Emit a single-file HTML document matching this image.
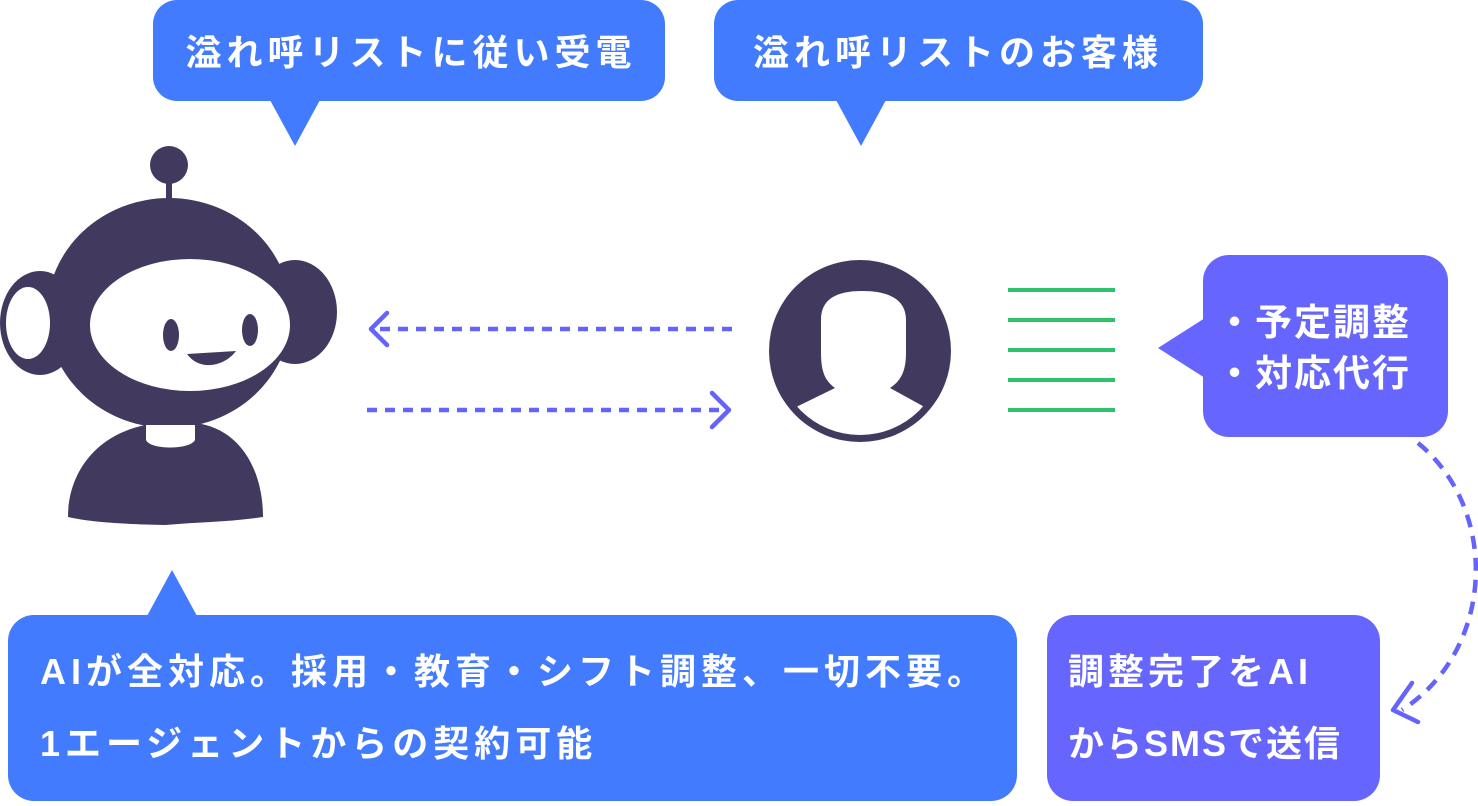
<!DOCTYPE html>
<html><head><meta charset="utf-8"><style>
html,body{margin:0;padding:0;background:#fff;}
svg text{font-family:"Liberation Sans","Noto Sans CJK JP",sans-serif;font-weight:bold;fill:#fff;}
</style></head><body>
<svg width="1478" height="801" viewBox="0 0 1478 801" xmlns="http://www.w3.org/2000/svg">
<defs><clipPath id="pc"><circle cx="860" cy="351" r="84"/></clipPath></defs>
<rect x="153" y="0" width="512" height="101" rx="24" fill="#427bfd"/>
<polygon points="270,100 320,100 295,146" fill="#427bfd"/>
<text x="411" y="65" font-size="36" text-anchor="middle" letter-spacing="5">溢れ呼リストに従い受電</text>
<rect x="714" y="0" width="489" height="101" rx="24" fill="#427bfd"/>
<polygon points="836,100 886,100 861,146" fill="#427bfd"/>
<text x="958" y="65" font-size="36" text-anchor="middle" letter-spacing="5">溢れ呼リストのお客様</text>
<g fill="#423a5e">
<circle cx="169" cy="165" r="19"/>
<rect x="166" y="180" width="6" height="22"/>
<ellipse cx="40" cy="323" rx="40" ry="52"/>
<ellipse cx="295" cy="312" rx="42" ry="52"/>
<ellipse cx="169" cy="313" rx="122" ry="115"/>
<path d="M68,517 C68,470 100,428 160,423 L195,423 C240,428 263,470 263,517 C230,522 200,522 165,525 C120,524 90,522 68,517 Z"/>
</g>
<ellipse cx="28" cy="323" rx="22" ry="36" fill="#fff"/>
<ellipse cx="190" cy="325" rx="100" ry="66" fill="#fff"/>
<ellipse cx="171" cy="335" rx="8" ry="16" fill="#423a5e"/>
<ellipse cx="250" cy="330" rx="8" ry="16" fill="#423a5e"/>
<path d="M187,354 L236,351 C225,366 200,372 187,354 Z" fill="#423a5e"/>
<path d="M146,425 L195,425 L195,440 C190,450 150,450 146,440 Z" fill="#fff"/>
<g stroke="#6463fb" stroke-width="4.5" fill="none">
<line x1="380" y1="329" x2="735" y2="329" stroke-dasharray="10 8"/>
<polyline points="387,313 371,329 387,345" stroke-linecap="round" stroke-linejoin="round"/>
<line x1="367" y1="410" x2="722" y2="410" stroke-dasharray="10 8"/>
<polyline points="712,393 729,410 712,427" stroke-linecap="round" stroke-linejoin="round"/>
<path d="M1418,443 C1500,510 1495,650 1402,710" stroke-dasharray="13 9"/>
<polyline points="1412,683 1393,710 1418,722" stroke-linecap="round" stroke-linejoin="round"/>
</g>
<circle cx="860" cy="351" r="91" fill="#423a5e"/>
<g clip-path="url(#pc)" fill="#fff">
<path d="M821,320 C821,300 835,291 862,291 C890,291 906,300 906,320 L906,352 C906,370 902,380 890,388 L930,410 L930,450 L790,450 L790,410 L835,388 C824,380 821,370 821,352 Z"/>
</g>
<g stroke="#2ec26a" stroke-width="4">
<line x1="1008" y1="290" x2="1115" y2="290"/>
<line x1="1008" y1="320" x2="1115" y2="320"/>
<line x1="1008" y1="350" x2="1115" y2="350"/>
<line x1="1008" y1="380" x2="1115" y2="380"/>
<line x1="1008" y1="410" x2="1115" y2="410"/>
</g>
<rect x="1203" y="255" width="245" height="182" rx="26" fill="#6666fe"/>
<polygon points="1205,318 1205,378 1158,348" fill="#6666fe"/>
<text x="1216" y="335" font-size="37" letter-spacing="2">・予定調整</text>
<text x="1216" y="386" font-size="37" letter-spacing="2">・対応代行</text>
<rect x="8" y="615" width="1009" height="186" rx="26" fill="#427bfd"/>
<polygon points="147,616 197,616 172,570" fill="#427bfd"/>
<text x="40" y="684" font-size="36" letter-spacing="5">AIが全対応。採用・教育・シフト調整、一切不要。</text>
<text x="40" y="756" font-size="36" letter-spacing="5">1エージェントからの契約可能</text>
<rect x="1047" y="615" width="333" height="186" rx="26" fill="#6666fe"/>
<text x="1068" y="684" font-size="36" letter-spacing="4">調整完了をAI</text>
<text x="1068" y="756" font-size="36" letter-spacing="2">からSMSで送信</text>
</svg>
</body></html>
